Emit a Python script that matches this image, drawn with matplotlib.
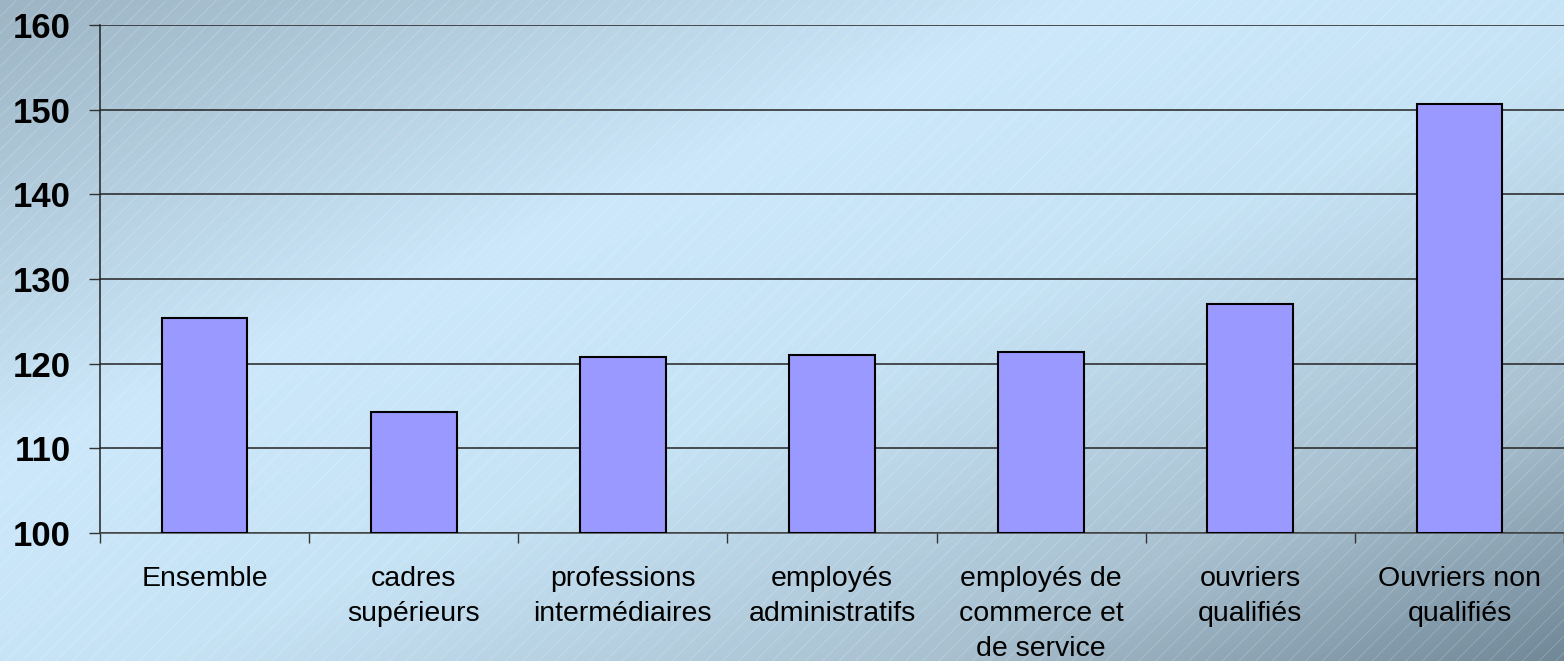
import numpy as np
import matplotlib
matplotlib.use("Agg")
import matplotlib.pyplot as plt
from matplotlib.colors import LinearSegmentedColormap
from matplotlib.patches import Rectangle

categories = ["Ensemble", "cadres\nsupérieurs", "professions\nintermédiaires",
              "employés\nadministratifs", "employés de\ncommerce et\nde service",
              "ouvriers\nqualifiés", "Ouvriers non\nqualifiés"]
values = [125.4, 114.3, 120.8, 121.0, 121.4, 127.0, 150.7]
yticks = [100, 110, 120, 130, 140, 150, 160]

plt.rcParams['font.family'] = ['Liberation Sans', 'DejaVu Sans']
plt.rcParams['hatch.linewidth'] = 0.6

fig = plt.figure(figsize=(15.64, 6.61), dpi=100)

# background: diagonal gradient + fine white hatching
bg = fig.add_axes([0, 0, 1, 1], zorder=-10)
bg.set_axis_off()
W, H = 1564, 661
xx, yy = np.meshgrid(np.linspace(0, 1, W), np.linspace(0, 1, H))
t = (xx + yy) / 2
cmap = LinearSegmentedColormap.from_list(
    "bg", [(0.0, "#9cb4c4"), (0.35, "#cce8fa"), (0.55, "#c6e3f5"),
           (0.8, "#a8c0d0"), (1.0, "#708898")])
bg.imshow(t, cmap=cmap, aspect="auto", extent=[0, 1, 1, 0], vmin=0, vmax=1)
bg.set_xlim(0, 1)
bg.set_ylim(1, 0)
bg.add_patch(Rectangle((0, 0), 1, 1, facecolor="none",
                       edgecolor=(1, 1, 1, 0.22), linewidth=0, hatch="//"))

ax = fig.add_axes([100 / W, 1 - 533 / H, 1 - 100 / W, (533 - 25) / H])
ax.patch.set_alpha(0)

x = np.arange(len(categories))
ax.bar(x, [v - 100 for v in values], bottom=100, width=0.41,
       color="#9999ff", edgecolor="black", linewidth=1.5, zorder=3)

ax.set_xlim(-0.5, len(categories) - 0.5)
ax.set_ylim(100, 160)
ax.set_yticks(yticks)
ax.set_yticklabels([str(v) for v in yticks], fontsize=25, fontweight="bold")
ax.yaxis.grid(True, color="#222222", linewidth=1.1, zorder=1)
ax.set_axisbelow(True)

ax.set_xticks(x)
ax.set_xticklabels(categories, fontsize=20.5, linespacing=1.47, va="top")
ax.set_xticks(np.arange(len(categories) + 1) - 0.5, minor=True)
ax.tick_params(axis="x", which="major", length=0, pad=23.5)
ax.tick_params(axis="x", which="minor", length=7, width=1, color="#333333")
ax.tick_params(axis="y", length=8, width=1, pad=13, color="#333333")

for s in ["top", "right"]:
    ax.spines[s].set_visible(False)
ax.spines["left"].set_color("#222222")
ax.spines["bottom"].set_color("#444444")
ax.spines["left"].set_linewidth(1.1)
ax.spines["bottom"].set_linewidth(1.1)

fig.savefig("out.png", dpi=100)
